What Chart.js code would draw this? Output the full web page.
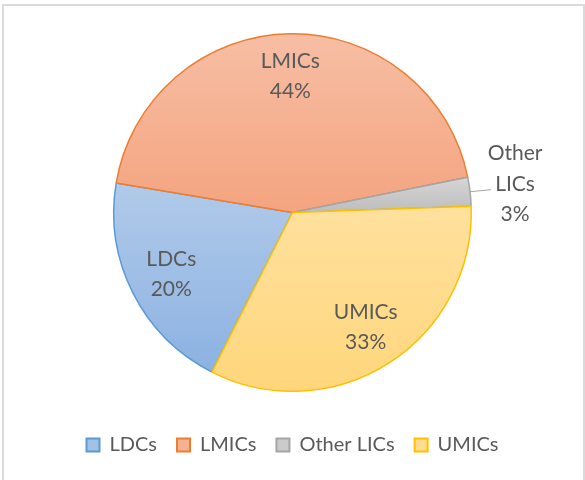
<!DOCTYPE html>
<html>
<head>
<meta charset="utf-8">
<script src="https://cdn.jsdelivr.net/npm/chart.js@4"></script>
<style>
  body { margin: 0; background: #fff; overflow: hidden; }
  #wrap { position: relative; width: 585px; height: 480px; }
  #frame { position: absolute; left: 2px; top: 4px; width: 579px; height: 480px; border: 2px solid #dadada; border-bottom: none; pointer-events: none; }
</style>
</head>
<body>
<div id="wrap">
  <canvas id="myChart" width="585" height="480"></canvas>
  <div id="frame"></div>
</div>
<script>
// data
const categories = ['LDCs', 'LMICs', 'Other LICs', 'UMICs'];
const values = [20.2, 44.2, 2.6, 33.0];

// styles
const topColors = ['#b1cae9', '#f7bea4', '#d6d6d6', '#ffe19e'];
const bottomColors = ['#8cb2e2', '#f4a47f', '#bdbdbd', '#ffd67c'];
const midColors = ['#a3c0e6', '#f5b192', '#cbcbcb', '#ffdc8f'];
const borderColors = ['#5b9bd5', '#ed7d31', '#a5a5a5', '#ffc000'];
const textColor = '#595959';
const fontFamily = 'Lato, "Open Sans", sans-serif';

const total = values.reduce((a, b) => a + b, 0);

function arcProps(arc){
  return arc.getProps(['x', 'y', 'startAngle', 'endAngle', 'outerRadius'], true);
}

// vertical gradient for each slice, over the slice's own height
const sliceFill = {
  id: 'sliceFill',
  beforeDatasetsDraw(chart){
    const ctx = chart.ctx;
    chart.getDatasetMeta(0).data.forEach((arc, i) => {
      const p = arcProps(arc);
      let top = p.y, bottom = p.y;
      for(let k = 0; k <= 60; k++){
        const a = p.startAngle + (p.endAngle - p.startAngle) * k / 60;
        const py = p.y + p.outerRadius * Math.sin(a);
        top = Math.min(top, py);
        bottom = Math.max(bottom, py);
      }
      const g = ctx.createLinearGradient(0, top, 0, bottom);
      g.addColorStop(0, topColors[i]);
      g.addColorStop(1, bottomColors[i]);
      arc.options.backgroundColor = g;
    });
  }
};

// category + percent labels
const sliceLabels = {
  id: 'sliceLabels',
  afterDatasetsDraw(chart){
    const ctx = chart.ctx;
    ctx.save();
    ctx.font = '21px ' + fontFamily;
    ctx.fillStyle = textColor;
    ctx.textAlign = 'center';
    ctx.textBaseline = 'middle';
    chart.getDatasetMeta(0).data.forEach((arc, i) => {
      const p = arcProps(arc);
      const mid = (p.startAngle + p.endAngle) / 2;
      const share = values[i] / total;
      const pct = Math.round(share * 100) + '%';
      if(share < 0.05){
        const ex = p.x + p.outerRadius * Math.cos(mid);
        const ey = p.y + p.outerRadius * Math.sin(mid);
        ctx.strokeStyle = '#a6a6a6';
        ctx.lineWidth = 1;
        ctx.beginPath();
        ctx.moveTo(ex, ey);
        ctx.lineTo(ex + 21, ey - 2);
        ctx.stroke();
        const lines = categories[i].split(' ').concat([pct]);
        lines.forEach((t, k) => ctx.fillText(t, ex + 45, ey - 38 + k * 30.5));
      }else{
        const lx = p.x + 0.76 * p.outerRadius * Math.cos(mid);
        const ly = p.y + 0.76 * p.outerRadius * Math.sin(mid);
        ctx.fillText(categories[i], lx, ly - 15);
        ctx.fillText(pct, lx, ly + 15);
      }
    });
    ctx.restore();
  }
};

const chart = new Chart('myChart', {
  type: 'pie',
  data: {
    labels: categories,
    datasets: [{
      data: values,
      backgroundColor: midColors,
      borderColor: borderColors,
      borderWidth: 1.5
    }]
  },
  options: {
    responsive: false,
    animation: false,
    rotation: 206.8,
    layout: { padding: { top: 33, bottom: 15, left: 0, right: 0 } },
    plugins: {
      tooltip: { enabled: false },
      legend: {
        position: 'bottom',
        title: { display: true, text: '', font: { size: 1, lineHeight: 1 }, padding: { top: 22, bottom: 0 } },
        labels: {
          padding: 20,
          boxWidth: 13,
          boxHeight: 13,
          color: textColor,
          font: { family: fontFamily, size: 20 },
          generateLabels(c){
            return categories.map((name, i) => ({
              text: name,
              fillStyle: midColors[i],
              strokeStyle: borderColors[i],
              lineWidth: 2,
              fontColor: textColor,
              index: i
            }));
          }
        }
      }
    }
  },
  plugins: [sliceFill, sliceLabels]
});
</script>
</body>
</html>
